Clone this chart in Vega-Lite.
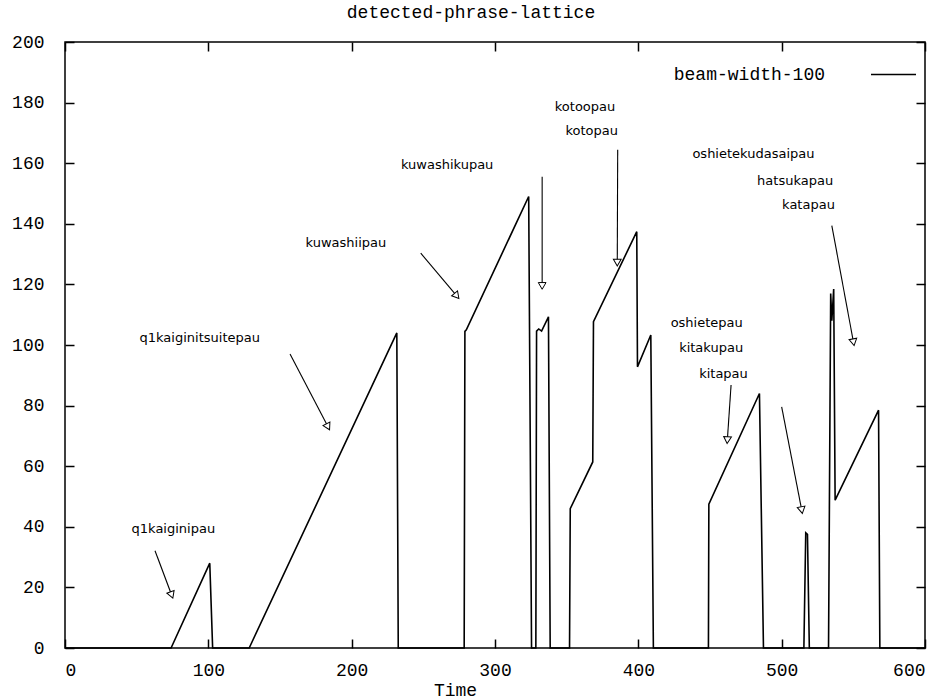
{
  "$schema": "https://vega.github.io/schema/vega-lite/v6.json",
  "width": 860,
  "height": 606,
  "autosize": {"type": "none"},
  "padding": {"left": 65, "top": 42, "right": 17, "bottom": 51},
  "background": "white",
  "title": {"text": "detected-phrase-lattice", "font": "Liberation Mono", "fontSize": 18, "fontWeight": "normal", "color": "black", "offset": 11, "dx": -24},
  "config": {"view": {"stroke": "black", "strokeWidth": 1.5}},
  "datasets": {
    "curve": [
      {"t": 0, "v": 0}, {"t": 74, "v": 0}, {"t": 101, "v": 28}, {"t": 103, "v": 0},
      {"t": 128.5, "v": 0}, {"t": 231.5, "v": 104}, {"t": 232.5, "v": 0},
      {"t": 278.5, "v": 0}, {"t": 279, "v": 104.5}, {"t": 280, "v": 105}, {"t": 323.5, "v": 149}, {"t": 325.5, "v": 0},
      {"t": 328.5, "v": 0}, {"t": 329, "v": 104.6}, {"t": 330.5, "v": 105.3}, {"t": 332.5, "v": 104.6}, {"t": 337.3, "v": 109.3}, {"t": 338.5, "v": 0},
      {"t": 352, "v": 0}, {"t": 352.5, "v": 46}, {"t": 368.2, "v": 61.4}, {"t": 368.7, "v": 107.7}, {"t": 398.9, "v": 137.4}, {"t": 399.4, "v": 92.8}, {"t": 408.7, "v": 103.3}, {"t": 410.5, "v": 0},
      {"t": 448.9, "v": 0}, {"t": 449.2, "v": 47.5}, {"t": 484.5, "v": 84}, {"t": 487.3, "v": 0},
      {"t": 515.5, "v": 0}, {"t": 516.8, "v": 38}, {"t": 518, "v": 37.5}, {"t": 519.3, "v": 0},
      {"t": 532.7, "v": 0}, {"t": 534.2, "v": 117}, {"t": 535, "v": 108}, {"t": 536.3, "v": 118.5}, {"t": 537.3, "v": 48.8}, {"t": 567.6, "v": 78.5}, {"t": 568.5, "v": 0},
      {"t": 600, "v": 0}
    ],
    "arrows": [
      {"x1": 62.8, "y1": 32.1, "x2": 74.4, "y2": 17.5},
      {"x1": 157, "y1": 97, "x2": 183.5, "y2": 73},
      {"x1": 248.2, "y1": 130.3, "x2": 273.3, "y2": 116.2},
      {"x1": 332.9, "y1": 155.5, "x2": 332.9, "y2": 119.5},
      {"x1": 385.6, "y1": 164.4, "x2": 385.3, "y2": 127.2},
      {"x1": 535, "y1": 139.4, "x2": 550.1, "y2": 100.9},
      {"x1": 464.7, "y1": 86.8, "x2": 462.1, "y2": 68.6},
      {"x1": 500, "y1": 79.6, "x2": 514, "y2": 45.5}
    ],
    "labels": [
      {"x": 75.6, "y": 39.3, "label": "q1kaiginipau"},
      {"x": 94, "y": 102.3, "label": "q1kaiginitsuitepau"},
      {"x": 196, "y": 133.7, "label": "kuwashiipau"},
      {"x": 266.6, "y": 159.4, "label": "kuwashikupau"},
      {"x": 362.8, "y": 178.6, "label": "kotoopau"},
      {"x": 367.5, "y": 170.6, "label": "kotopau"},
      {"x": 480.3, "y": 163, "label": "oshietekudasaipau"},
      {"x": 509.4, "y": 154.2, "label": "hatsukapau"},
      {"x": 518.7, "y": 146.2, "label": "katapau"},
      {"x": 447.7, "y": 107.4, "label": "oshietepau"},
      {"x": 450.8, "y": 98.9, "label": "kitakupau"},
      {"x": 459.4, "y": 90.3, "label": "kitapau"}
    ]
  },
  "layer": [
    {
      "data": {"name": "curve"},
      "mark": {"type": "line", "strokeWidth": 1.6, "interpolate": "linear"},
      "encoding": {
        "x": {"field": "t", "type": "quantitative", "scale": {"domain": [0, 600], "nice": false, "zero": false},
          "axis": {"orient": "bottom", "values": [0, 100, 200, 300, 400, 500, 600], "domain": false, "grid": false,
            "tickSize": -9, "tickWidth": 1.5, "tickColor": "black", "labelPadding": 22,
            "labelFont": "Liberation Mono", "labelFontSize": 18, "labelColor": "black",
            "title": "Time", "titleX": 390, "titleFont": "Liberation Mono", "titleFontSize": 18, "titleFontWeight": "normal", "titleColor": "black", "titlePadding": 2}},
        "y": {"field": "v", "type": "quantitative", "scale": {"domain": [0, 200], "nice": false},
          "axis": {"orient": "left", "values": [0, 20, 40, 60, 80, 100, 120, 140, 160, 180, 200], "domain": false, "grid": false,
            "tickSize": -9, "tickWidth": 1.5, "tickColor": "black", "labelPadding": 30,
            "labelFont": "Liberation Mono", "labelFontSize": 18, "labelColor": "black", "title": null}},
        "color": {"datum": "beam-width-100", "type": "nominal", "scale": {"range": ["black"]},
          "legend": {"title": null, "orient": "none", "legendX": 805, "legendY": 9, "padding": 0,
            "symbolType": "stroke", "symbolSize": 2025, "symbolStrokeWidth": 1.5,
            "labelFont": "Liberation Mono", "labelFontSize": 18, "labelColor": "black",
            "labelAlign": "right", "labelOffset": -92}}
      }
    },
    {
      "data": {"name": "arrows"},
      "mark": {"type": "rule", "strokeWidth": 1.1, "color": "black"},
      "encoding": {
        "x": {"field": "x1", "type": "quantitative", "scale": {"domain": [0, 600], "nice": false, "zero": false},
          "axis": {"orient": "top", "values": [0, 100, 200, 300, 400, 500, 600], "domain": false, "grid": false, "labels": false,
            "tickSize": -9, "tickWidth": 1.5, "tickColor": "black", "title": null}},
        "y": {"field": "y1", "type": "quantitative", "scale": {"domain": [0, 200], "nice": false},
          "axis": {"orient": "right", "values": [0, 20, 40, 60, 80, 100, 120, 140, 160, 180, 200], "domain": false, "grid": false, "labels": false,
            "tickSize": -9, "tickWidth": 1.5, "tickColor": "black", "title": null}},
        "x2": {"field": "x2"},
        "y2": {"field": "y2"}
      }
    },
    {
      "data": {"name": "arrows"},
      "transform": [
        {"calculate": "atan2((datum.x2 - datum.x1) * 860 / 600, (datum.y2 - datum.y1) * 606 / 200) * 180 / PI", "as": "angle"}
      ],
      "mark": {"type": "point", "shape": "triangle-up", "filled": true, "fill": "white", "stroke": "black", "strokeWidth": 1, "size": 60, "opacity": 1},
      "encoding": {
        "x": {"field": "x2", "type": "quantitative", "scale": {"domain": [0, 600], "nice": false, "zero": false}, "axis": null},
        "y": {"field": "y2", "type": "quantitative", "scale": {"domain": [0, 200], "nice": false}, "axis": null},
        "angle": {"field": "angle", "type": "quantitative", "scale": null}
      }
    },
    {
      "data": {"name": "labels"},
      "mark": {"type": "text", "font": "DejaVu Sans", "fontSize": 13, "color": "black", "align": "center", "baseline": "middle"},
      "encoding": {
        "x": {"field": "x", "type": "quantitative", "scale": {"domain": [0, 600], "nice": false, "zero": false}, "axis": null},
        "y": {"field": "y", "type": "quantitative", "scale": {"domain": [0, 200], "nice": false}, "axis": null},
        "text": {"field": "label"}
      }
    }
  ],
  "resolve": {"axis": {"x": "independent", "y": "independent"}}
}
